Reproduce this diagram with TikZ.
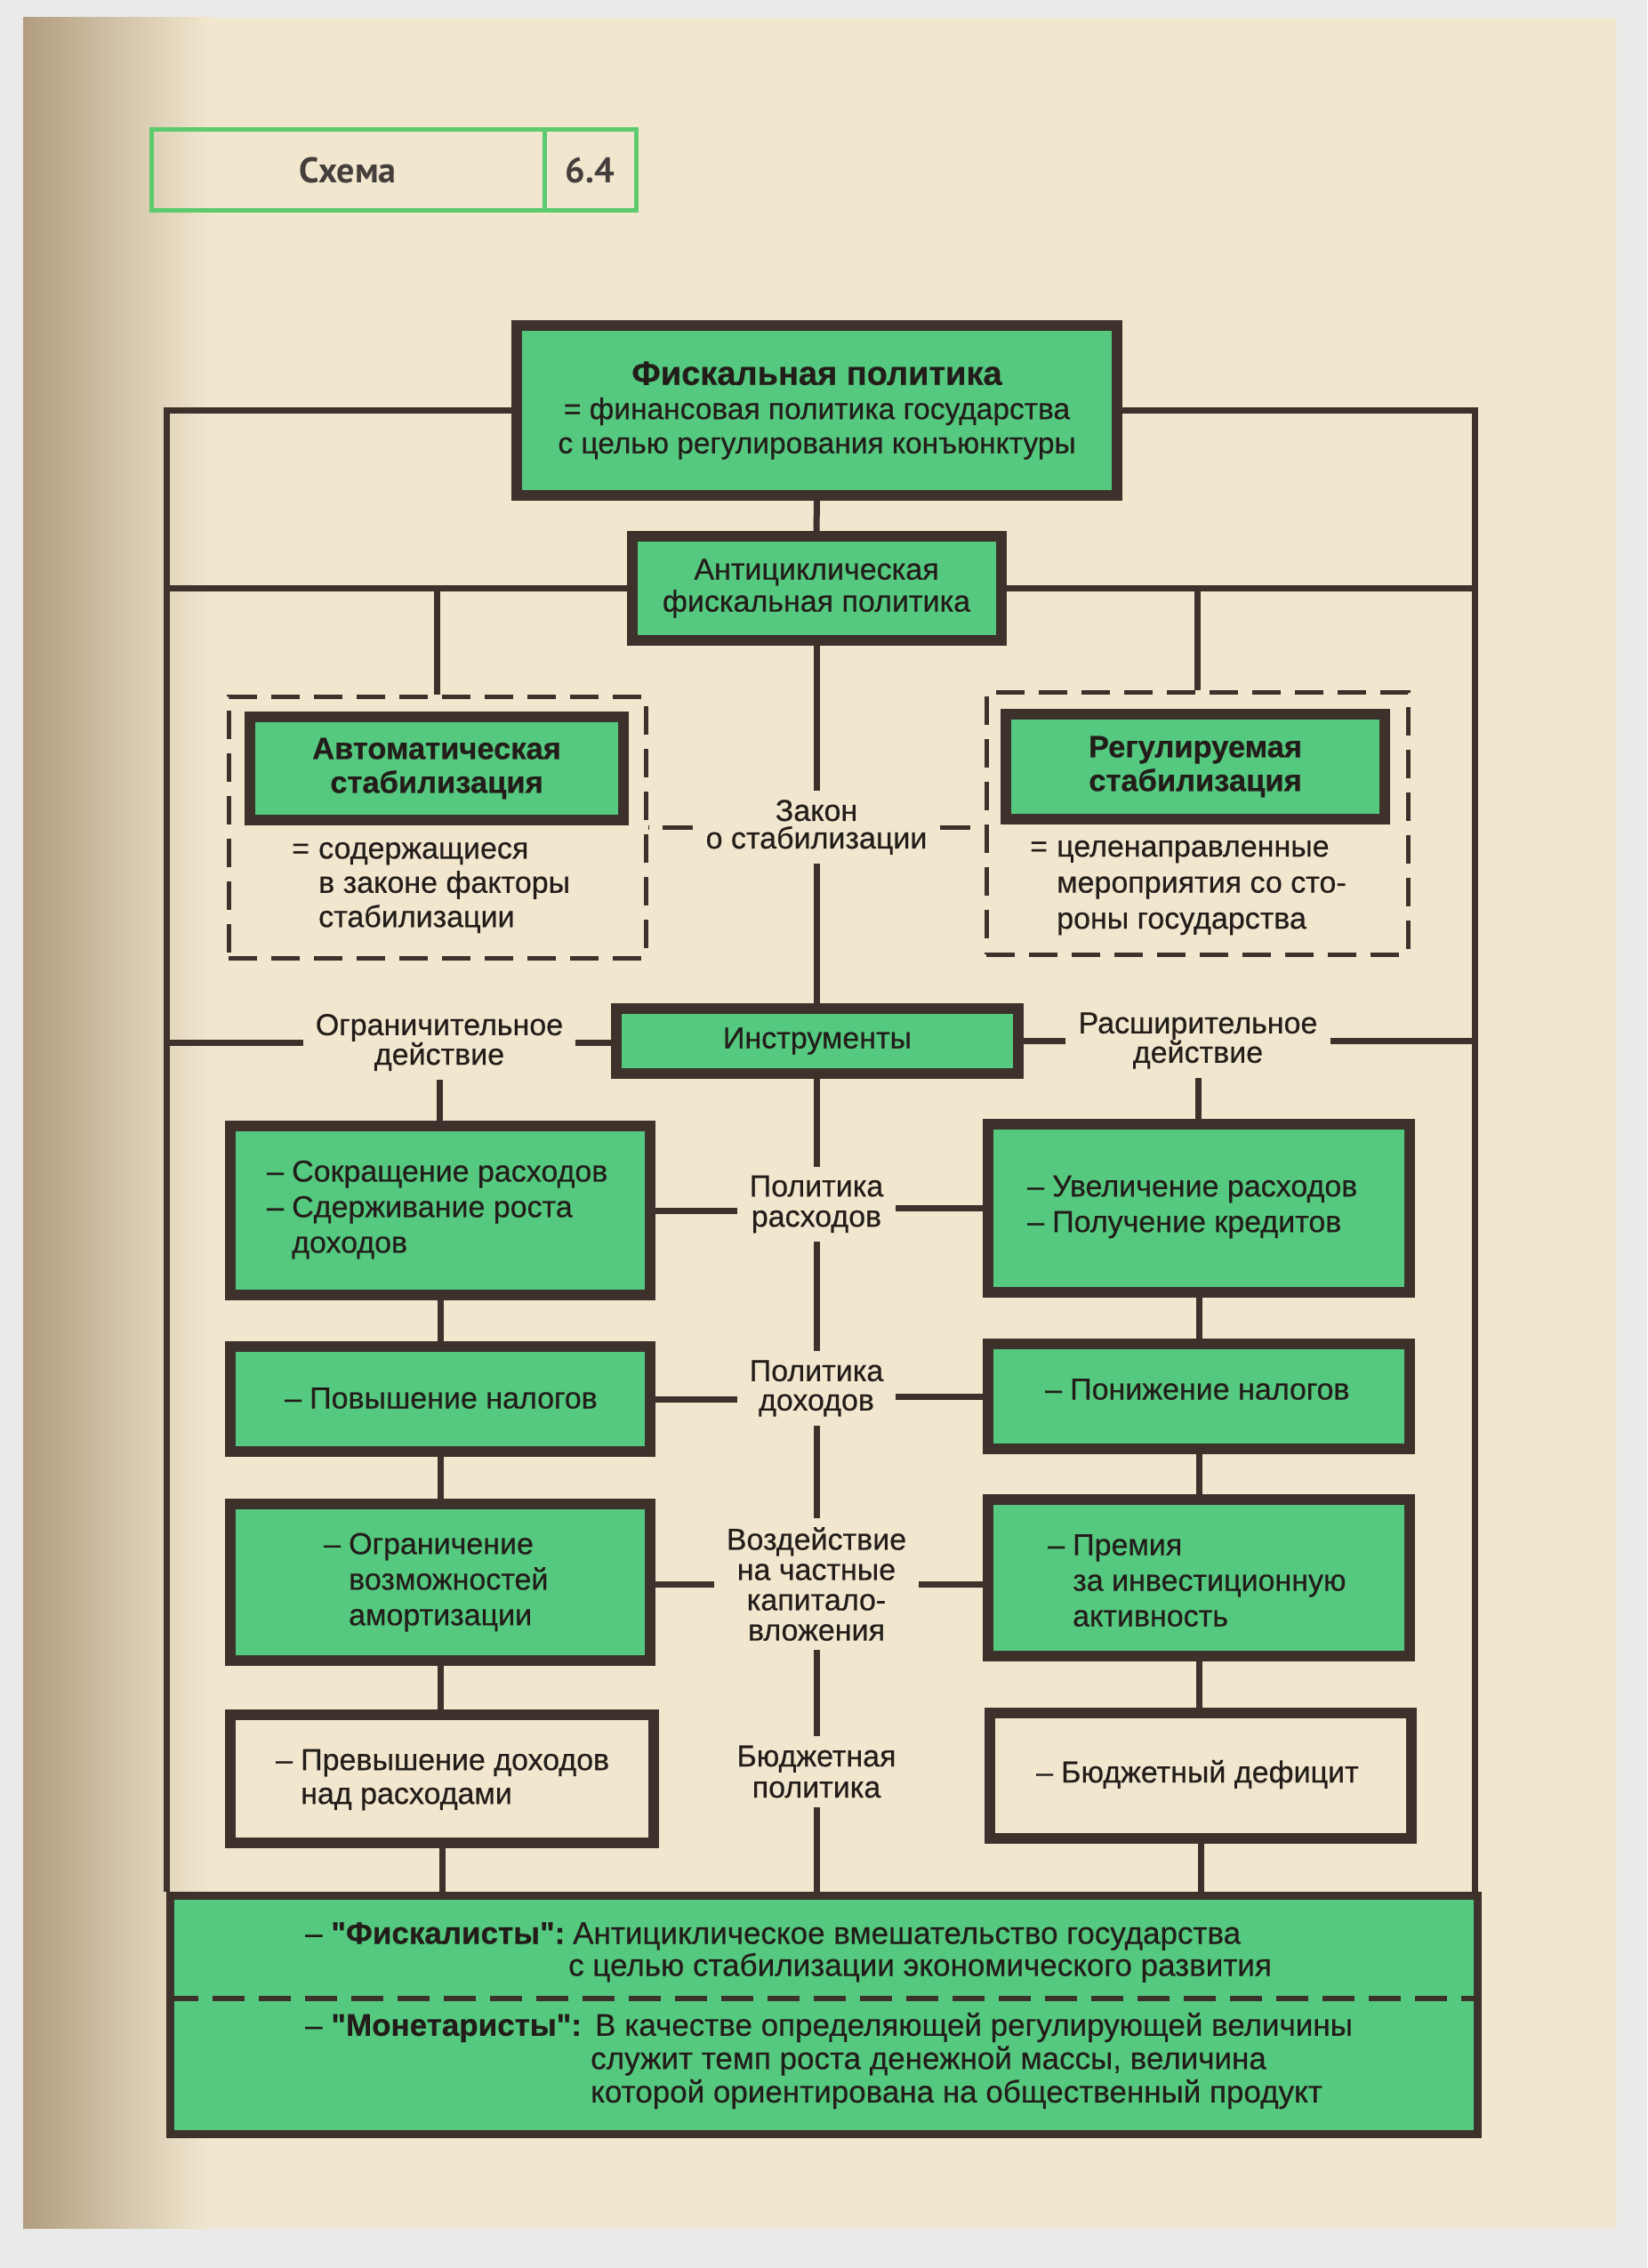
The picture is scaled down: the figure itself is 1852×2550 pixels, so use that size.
\documentclass[tikz,border=0pt]{standalone}
\usepackage{fontspec}
\newfontfamily\mf{Liberation Sans}[FakeBold=0.5]
\newfontfamily\hf{PT Sans}
\definecolor{paper}{HTML}{F1E7CF}
\definecolor{shadowa}{HTML}{B29D80}
\definecolor{shadowb}{HTML}{D9C4A3}
\definecolor{outerc}{HTML}{EAEAE8}
\definecolor{grn}{HTML}{55C97F}
\definecolor{hgrn}{HTML}{5CCB6E}
\definecolor{boxc}{HTML}{3D312B}
\definecolor{ink}{HTML}{231D1A}
\newcommand{\setfs}[2]{\fontsize{#1}{#2}\selectfont}
\newcommand{\mydash}{\makebox[28pt][l]{–}}
\begin{document}
\begin{tikzpicture}[x=1pt,y=-1pt,
  conn/.style={draw=boxc,line width=7pt},
  dashc/.style={draw=boxc,line width=5pt,dash pattern=on 34pt off 16pt},
  gbox/.style={draw=boxc,fill=grn,line width=12pt,inner sep=0pt,rectangle,text=ink},
  wbox/.style={draw=boxc,line width=12pt,inner sep=0pt,rectangle},
  dbox/.style={draw=boxc,line width=5pt,dash pattern=on 32pt off 16pt,inner sep=0pt,rectangle},
  hbox/.style={draw=hgrn,line width=5pt,inner sep=0pt,rectangle,text=ink!85,font=\hf\bfseries\setfs{40}{44}},
  lbl/.style={text=ink,align=center,inner xsep=14pt,inner ysep=10pt},
  txt/.style={text=ink,font=\mf\setfs{34}{40},align=left,inner sep=0pt,anchor=west},
]
\useasboundingbox (0,0) rectangle (1852,2550);
\fill[outerc] (0,0) rectangle (1852,2550);
\fill[paper] (26,20) rectangle (1817,2505);
\shade[left color=shadowa,middle color=shadowb,right color=paper] (26,20) rectangle (236,2505);

\coordinate (FL) at (187,0);
\coordinate (FR) at (1658,0);
\coordinate (DL) at (0,2247);

% header
\node[hbox,minimum width=442pt,minimum height=90pt] (hdrA) at (391,191) {Схема};
\node[hbox,minimum width=103pt,minimum height=90pt] (hdrB) at (663.5,191) {6.4};

% top
\node[gbox,minimum width=675pt,minimum height=191pt,font=\mf\setfs{33.5}{38.5},align=center] (top) at (918.5,461.5)
  {{\bfseries\setfs{38}{38.5}Фискальная политика}\\= финансовая политика государства\\с целью регулирования конъюнктуры};
\node[gbox,minimum width=415pt,minimum height=117pt,font=\mf\setfs{34}{36},align=center] (anti) at (918,661.5)
  {Антициклическая\\фискальная политика};

% stabilisation
\node[dbox,minimum width=469pt,minimum height=294pt] (ldash) at (491.5,930) {};
\node[dbox,minimum width=474pt,minimum height=295pt] (rdash) at (1346,925.5) {};
\node[gbox,minimum width=420pt,minimum height=116pt,font=\mf\bfseries\setfs{34.5}{38},align=center] (lauto) at (491,864)
  {Автоматическая\\стабилизация};
\node[gbox,minimum width=426pt,minimum height=118pt,font=\mf\bfseries\setfs{34.5}{38},align=center] (rreg) at (1344,862)
  {Регулируемая\\стабилизация};
\node[txt,font=\mf\setfs{34}{38.5}] (ltext) at (358,998)
  {\llap{\makebox[30pt][l]{=}}содержащиеся\\в законе факторы\\стабилизации};
\node[txt,font=\mf\setfs{34}{40.5}] (rtext) at (1188,998)
  {\llap{\makebox[30pt][l]{=}}целенаправленные\\мероприятия со сто-\\роны государства};
\node[lbl,font=\mf\setfs{34}{31}] (zakon) at (918,930) {Закон\\о стабилизации};

% instruments
\node[gbox,minimum width=452pt,minimum height=73pt,font=\mf\setfs{34}{34}] (instr) at (919,1170.5) {Инструменты};
\node[lbl,font=\mf\setfs{34}{31}] (ogr) at (494,1172) {Ограничительное\\действие};
\node[lbl,font=\mf\setfs{34}{33}] (ras) at (1347,1170) {Расширительное\\действие};

% left column
\node[gbox,minimum width=472pt,minimum height=190pt] (l1) at (495,1361) {};
\node[txt] (l1t) at (300,1360) {\mydash Сокращение расходов\\\mydash Сдерживание роста\\\hspace*{28pt}доходов};
\node[gbox,minimum width=472pt,minimum height=118pt] (l2) at (495,1573) {};
\node[txt] (l2t) at (320,1572) {\mydash Повышение налогов};
\node[gbox,minimum width=472pt,minimum height=176pt] (l3) at (495,1779) {};
\node[txt] (l3t) at (364,1779) {\mydash Ограничение\\\hspace*{28pt}возможностей\\\hspace*{28pt}амортизации};
\node[wbox,minimum width=476pt,minimum height=144pt] (l4) at (497,2000) {};
\node[txt,font=\mf\setfs{34}{38}] (l4t) at (310,2001) {\mydash Превышение доходов\\\hspace*{28pt}над расходами};

% right column
\node[gbox,minimum width=474pt,minimum height=189pt] (r1) at (1348,1358.5) {};
\node[txt] (r1t) at (1155,1357) {\mydash Увеличение расходов\\\mydash Получение кредитов};
\node[gbox,minimum width=474pt,minimum height=118pt] (r2) at (1348,1570) {};
\node[txt] (r2t) at (1175,1562) {\mydash Понижение налогов};
\node[gbox,minimum width=474pt,minimum height=176pt] (r3) at (1348,1774) {};
\node[txt] (r3t) at (1178,1777) {\mydash Премия\\\hspace*{28pt}за инвестиционную\\\hspace*{28pt}активность};
\node[wbox,minimum width=474pt,minimum height=141pt] (r4) at (1350,1996.5) {};
\node[txt] (r4t) at (1165,1995) {\mydash Бюджетный дефицит};

% centre labels
\node[lbl,font=\mf\setfs{34}{34}] (polras) at (918,1354) {Политика\\расходов};
\node[lbl,font=\mf\setfs{34}{33}] (poldoh) at (918,1561) {Политика\\доходов};
\node[lbl,font=\mf\setfs{34}{34}] (vozd) at (918,1781) {Воздействие\\на частные\\капитало-\\вложения};
\node[lbl,font=\mf\setfs{34}{35}] (budg) at (918,1992) {Бюджетная\\политика};

% bottom box
\node[gbox,line width=9pt,minimum width=1470pt,minimum height=268pt] (bot) at (926,2265) {};
\draw[draw=boxc,line width=6pt,dash pattern=on 36pt off 16pt] (bot.west |- DL) -- (bot.east |- DL);
\node[txt,font=\mf\setfs{35}{36}] (fisk) at (343,2195)
  {\makebox[301pt][l]{– \textbf{"Фискалисты":}}Антициклическое вмешательство государства\\\hspace*{296pt}с целью стабилизации экономического развития};
\node[txt,font=\mf\setfs{35}{37.5}] (monet) at (343,2317)
  {\makebox[326pt][l]{– \textbf{"Монетаристы":}}В качестве определяющей регулирующей величины\\\hspace*{321pt}служит темп роста денежной массы, величина\\\hspace*{321pt}которой ориентирована на общественный продукт};

% connectors
\draw[conn] (top.west) -- (top.west -| FL) -- (FL |- bot.north);
\draw[conn] (top.east) -- (top.east -| FR) -- (FR |- bot.north);
\draw[conn] (top.south) -- (anti.north);
\draw[conn] (anti.west) -- (anti.west -| FL);
\draw[conn] (anti.east) -- (anti.east -| FR);
\draw[conn] (ldash.north |- anti.west) -- (ldash.north);
\draw[conn] (rdash.north |- anti.east) -- (rdash.north);
\draw[conn] (anti.south) -- (zakon.north);
\draw[dashc] (zakon.west) -- (zakon.west -| ldash.east);
\draw[dashc] (zakon.east) -- (zakon.east -| rdash.west);
\draw[conn] (zakon.south) -- (zakon.south |- instr.north);
\draw[conn] (ogr.east) -- (ogr.east -| instr.west);
\draw[conn] (ogr.west) -- (ogr.west -| FL);
\draw[conn] (ras.west) -- (ras.west -| instr.east);
\draw[conn] (ras.east) -- (ras.east -| FR);
\draw[conn] (ogr.south) -- (ogr.south |- l1.north);
\draw[conn] (ras.south) -- (ras.south |- r1.north);
\draw[conn] (instr.south -| polras.north) -- (polras.north);
\draw[conn] (polras.south) -- (poldoh.north);
\draw[conn] (poldoh.south) -- (vozd.north);
\draw[conn] (vozd.south) -- (budg.north);
\draw[conn] (budg.south) -- (budg.south |- bot.north);
\draw[conn] (l1.east) -- (l1.east -| polras.west);
\draw[conn] (r1.west) -- (r1.west -| polras.east);
\draw[conn] (l2.east) -- (l2.east -| poldoh.west);
\draw[conn] (r2.west) -- (r2.west -| poldoh.east);
\draw[conn] (vozd.west) -- (vozd.west -| l3.east);
\draw[conn] (vozd.east) -- (vozd.east -| r3.west);
\draw[conn] (l1.south) -- (l2.north);
\draw[conn] (l2.south) -- (l3.north);
\draw[conn] (l3.south) -- (l3.south |- l4.north);
\draw[conn] (l4.south) -- (l4.south |- bot.north);
\draw[conn] (r1.south) -- (r2.north);
\draw[conn] (r2.south) -- (r3.north);
\draw[conn] (r3.south) -- (r3.south |- r4.north);
\draw[conn] (r4.south) -- (r4.south |- bot.north);
\end{tikzpicture}
\end{document}
